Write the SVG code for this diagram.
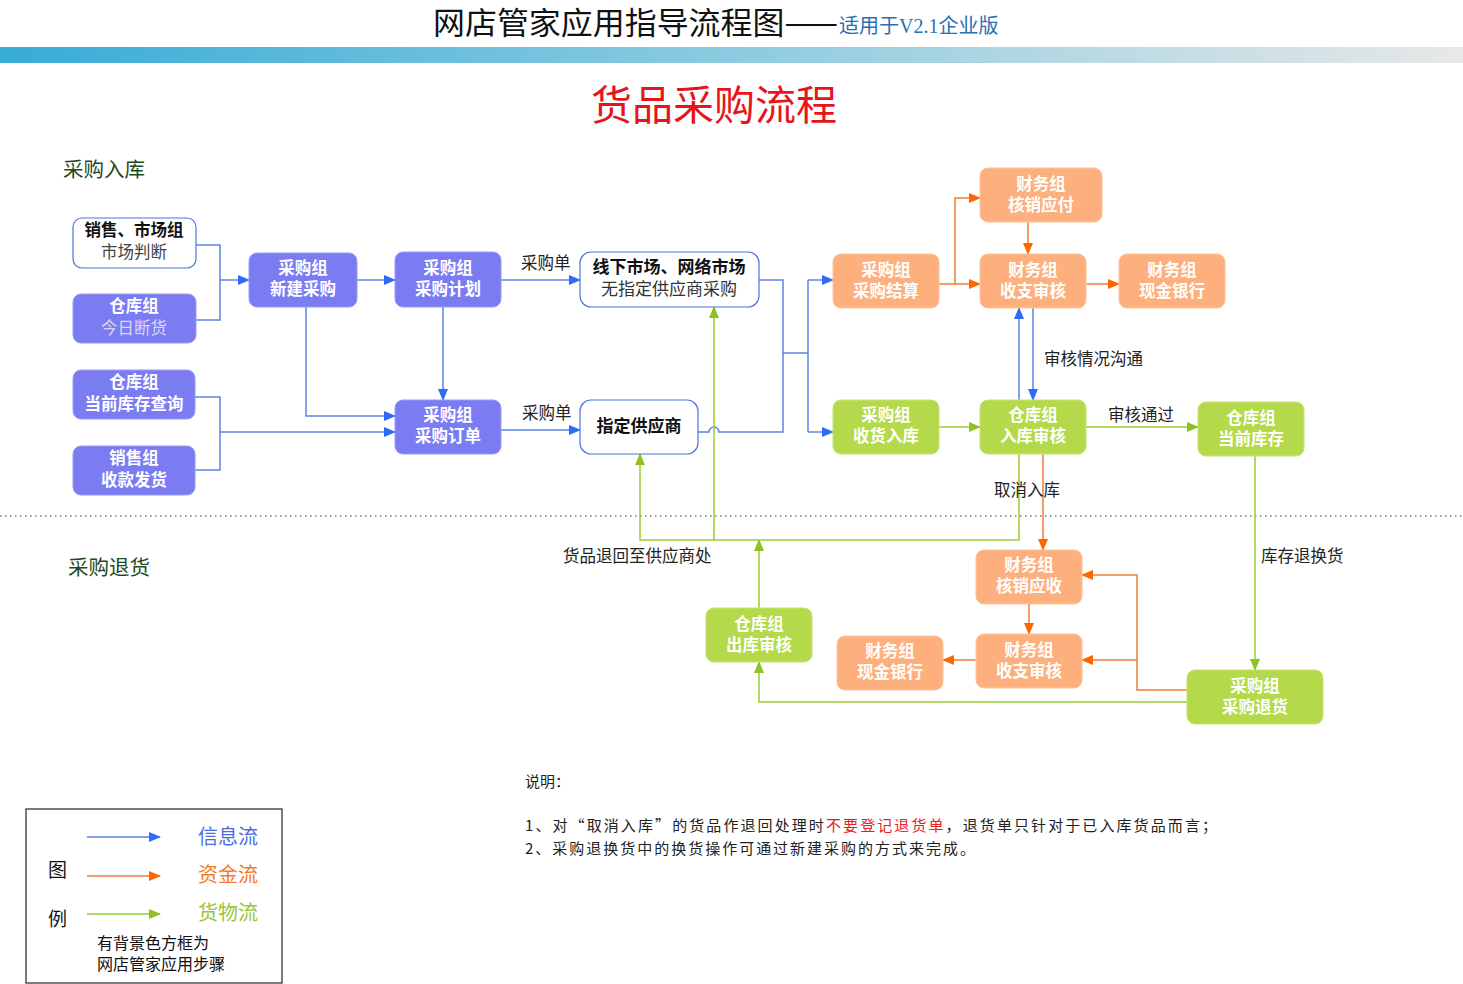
<svg xmlns="http://www.w3.org/2000/svg" width="1463" height="984" viewBox="0 0 1463 984">
<defs>
<linearGradient id="bar" x1="0" x2="1" y1="0" y2="0">
<stop offset="0" stop-color="#37acd6"/>
<stop offset="0.5" stop-color="#8ccbe0"/>
<stop offset="1" stop-color="#e8e8e8"/>
</linearGradient>
<marker id="ab" markerWidth="12" markerHeight="10" refX="11" refY="5" orient="auto" markerUnits="userSpaceOnUse"><path d="M0,0 L12,5 L0,10 Z" fill="#2f6cf5"/></marker>
<marker id="ao" markerWidth="12" markerHeight="10" refX="11" refY="5" orient="auto" markerUnits="userSpaceOnUse"><path d="M0,0 L12,5 L0,10 Z" fill="#ff6600"/></marker>
<marker id="ag" markerWidth="12" markerHeight="10" refX="11" refY="5" orient="auto" markerUnits="userSpaceOnUse"><path d="M0,0 L12,5 L0,10 Z" fill="#8dc21f"/></marker>
</defs>
<style>
.t{font-family:"Noto Sans CJK SC","Noto Sans",sans-serif;}
.s{font-family:"Liberation Serif","Noto Sans CJK SC",serif;}
.nt{font-family:"Noto Sans CJK SC",sans-serif;font-size:16.5px;fill:#ffffff;text-anchor:middle;font-weight:bold;}
.p{fill:#7c7cf2;stroke:#9a9af8;stroke-width:1;}
.o{fill:#fdb07e;stroke:#fcc39c;stroke-width:1;}
.g{fill:#b4d94a;stroke:#c6e272;stroke-width:1;}
.w{fill:#ffffff;stroke:#4b74e0;stroke-width:1.2;}
.lb{fill:none;stroke:#5b82e8;stroke-width:1.5;}
.lo{fill:none;stroke:#f07d3a;stroke-width:1.5;}
.lg{fill:none;stroke:#9acd32;stroke-width:1.5;}
.lab{font-family:"Noto Sans CJK SC",sans-serif;font-size:16.5px;fill:#222;}
</style>
<rect width="1463" height="984" fill="#ffffff"/>
<!-- header -->
<text x="433" y="34" class="t" font-size="31" fill="#111" textLength="405" lengthAdjust="spacingAndGlyphs">网店管家应用指导流程图——</text>
<text x="839" y="33" class="s" font-size="20" fill="#2a6fb3">适用于V2.1企业版</text>
<rect x="0" y="47" width="1463" height="16" fill="url(#bar)"/>
<text x="714" y="120" class="t" font-size="41" fill="#e8141c" text-anchor="middle">货品采购流程</text>
<text x="63" y="177" class="t" font-size="20.5" fill="#1e4a1e">采购入库</text>
<text x="68" y="575" class="t" font-size="20.5" fill="#1e4a1e">采购退货</text>
<line x1="0" y1="516" x2="1463" y2="516" stroke="#333" stroke-width="1.2" stroke-dasharray="1.5,3.5"/>
<!-- connectors -->
<g id="connectors">
<path class="lb" d="M196,245 H220 V320 H196"/>
<path class="lb" d="M220,280 H249" marker-end="url(#ab)"/>
<path class="lb" d="M357,280 H395" marker-end="url(#ab)"/>
<path class="lb" d="M501,280 H580" marker-end="url(#ab)"/>
<path class="lb" d="M443,307 V400" marker-end="url(#ab)"/>
<path class="lb" d="M306,307 V416 H395" marker-end="url(#ab)"/>
<path class="lb" d="M195,397 H220 V470 H195"/>
<path class="lb" d="M220,432 H395" marker-end="url(#ab)"/>
<path class="lb" d="M501,430 H580" marker-end="url(#ab)"/>
<path class="lb" d="M759,280 H783 V432 H719 A5,5 0 0 0 709,432 H698"/>
<path class="lb" d="M783,353 H808"/>
<path class="lb" d="M808,280 V432"/>
<path class="lb" d="M808,280 H833" marker-end="url(#ab)"/>
<path class="lb" d="M808,432 H833" marker-end="url(#ab)"/>
<path class="lb" d="M1019,400 V308" marker-end="url(#ab)"/>
<path class="lb" d="M1033,308 V400" marker-end="url(#ab)"/>
<path class="lo" d="M939,284 H980" marker-end="url(#ao)"/>
<path class="lo" d="M955,284 V198 H980" marker-end="url(#ao)"/>
<path class="lo" d="M1028,222 V254" marker-end="url(#ao)"/>
<path class="lo" d="M1086,284 H1119" marker-end="url(#ao)"/>
<path class="lo" d="M1043,454 V550" marker-end="url(#ao)"/>
<path class="lo" d="M1187,690 H1137 V575 H1082" marker-end="url(#ao)"/>
<path class="lo" d="M1137,660 H1082" marker-end="url(#ao)"/>
<path class="lo" d="M1029,604 V634" marker-end="url(#ao)"/>
<path class="lo" d="M976,660 H943" marker-end="url(#ao)"/>
<path class="lg" d="M939,427 H980" marker-end="url(#ag)"/>
<path class="lg" d="M1086,427 H1198" marker-end="url(#ag)"/>
<path class="lg" d="M1255,456 V670" marker-end="url(#ag)"/>
<path class="lg" d="M1019,454 V540 H640 V454" marker-end="url(#ag)"/>
<path class="lg" d="M714,540 V307" marker-end="url(#ag)"/>
<path class="lg" d="M759,608 V540" marker-end="url(#ag)"/>
<path class="lg" d="M1187,702 H759 V662" marker-end="url(#ag)"/>
<text x="521" y="269" class="lab">采购单</text>
<text x="522" y="419" class="lab">采购单</text>
<text x="1044" y="365" class="lab">审核情况沟通</text>
<text x="1108" y="421" class="lab">审核通过</text>
<text x="994" y="496" class="lab">取消入库</text>
<text x="563" y="562" class="lab">货品退回至供应商处</text>
<text x="1261" y="562" class="lab">库存退换货</text>
</g>
<!-- nodes -->
<g id="n1"><rect class="w" x="73" y="218" width="123" height="50" rx="9"/>
<text x="134" y="236" class="t" font-size="16.5" font-weight="bold" fill="#111" text-anchor="middle">销售、市场组</text>
<text x="134" y="258" class="s" font-size="16.5" fill="#444" text-anchor="middle">市场判断</text></g>
<g id="n2"><rect class="p" x="73" y="294" width="123" height="49" rx="8"/>
<text x="134" y="312" class="nt">仓库组</text>
<text x="134" y="334" class="s" font-size="16.5" fill="#d8d8f0" text-anchor="middle">今日断货</text></g>
<g id="n3"><rect class="p" x="73" y="370" width="122" height="49" rx="8"/>
<text x="134" y="388" class="nt">仓库组</text>
<text x="134" y="410" class="nt">当前库存查询</text></g>
<g id="n4"><rect class="p" x="73" y="446" width="122" height="49" rx="8"/>
<text x="134" y="464" class="nt">销售组</text>
<text x="134" y="486" class="nt">收款发货</text></g>
<g id="n5"><rect class="p" x="249" y="253" width="108" height="54" rx="8"/>
<text x="303" y="274" class="nt">采购组</text>
<text x="303" y="295" class="nt">新建采购</text></g>
<g id="n6"><rect class="p" x="395" y="252" width="106" height="55" rx="8"/>
<text x="448" y="274" class="nt">采购组</text>
<text x="448" y="295" class="nt">采购计划</text></g>
<g id="n7"><rect class="p" x="395" y="400" width="106" height="54" rx="8"/>
<text x="448" y="421" class="nt">采购组</text>
<text x="448" y="442" class="nt">采购订单</text></g>
<g id="n8"><rect class="w" x="580" y="252" width="179" height="55" rx="11"/>
<text x="669" y="273" class="t" font-size="17" font-weight="bold" fill="#111" text-anchor="middle">线下市场、网络市场</text>
<text x="669" y="295" class="s" font-size="17" fill="#333" text-anchor="middle">无指定供应商采购</text></g>
<g id="n9"><rect class="w" x="580" y="400" width="118" height="54" rx="11"/>
<text x="639" y="432" class="t" font-size="17" font-weight="bold" fill="#111" text-anchor="middle">指定供应商</text></g>
<g id="n10"><rect class="o" x="833" y="254" width="106" height="54" rx="8"/>
<text x="886" y="276" class="nt">采购组</text>
<text x="886" y="297" class="nt">采购结算</text></g>
<g id="n11"><rect class="o" x="980" y="168" width="122" height="54" rx="8"/>
<text x="1041" y="190" class="nt">财务组</text>
<text x="1041" y="211" class="nt">核销应付</text></g>
<g id="n12"><rect class="o" x="980" y="254" width="106" height="54" rx="8"/>
<text x="1033" y="276" class="nt">财务组</text>
<text x="1033" y="297" class="nt">收支审核</text></g>
<g id="n13"><rect class="o" x="1119" y="254" width="106" height="54" rx="8"/>
<text x="1172" y="276" class="nt">财务组</text>
<text x="1172" y="297" class="nt">现金银行</text></g>
<g id="n14"><rect class="g" x="833" y="400" width="106" height="54" rx="8"/>
<text x="886" y="421" class="nt">采购组</text>
<text x="886" y="442" class="nt">收货入库</text></g>
<g id="n15"><rect class="g" x="980" y="400" width="106" height="54" rx="8"/>
<text x="1033" y="421" class="nt">仓库组</text>
<text x="1033" y="442" class="nt">入库审核</text></g>
<g id="n16"><rect class="g" x="1198" y="402" width="106" height="54" rx="8"/>
<text x="1251" y="424" class="nt">仓库组</text>
<text x="1251" y="445" class="nt">当前库存</text></g>
<g id="n17"><rect class="o" x="976" y="550" width="106" height="54" rx="8"/>
<text x="1029" y="571" class="nt">财务组</text>
<text x="1029" y="592" class="nt">核销应收</text></g>
<g id="n18"><rect class="o" x="976" y="634" width="106" height="54" rx="8"/>
<text x="1029" y="656" class="nt">财务组</text>
<text x="1029" y="677" class="nt">收支审核</text></g>
<g id="n19"><rect class="o" x="837" y="636" width="106" height="54" rx="8"/>
<text x="890" y="657" class="nt">财务组</text>
<text x="890" y="678" class="nt">现金银行</text></g>
<g id="n20"><rect class="g" x="706" y="608" width="106" height="54" rx="8"/>
<text x="759" y="630" class="nt">仓库组</text>
<text x="759" y="651" class="nt">出库审核</text></g>
<g id="n21"><rect class="g" x="1187" y="670" width="136" height="54" rx="8"/>
<text x="1255" y="692" class="nt">采购组</text>
<text x="1255" y="713" class="nt">采购退货</text></g>
<!-- notes -->
<text x="525" y="787" class="t" font-size="15" fill="#222">说明：</text>
<text x="525" y="831" class="t" font-size="15" fill="#222" textLength="692" lengthAdjust="spacing">1、对“取消入库”的货品作退回处理时<tspan fill="#e82020">不要登记退货单</tspan>，退货单只针对于已入库货品而言；</text>
<text x="525" y="854" class="t" font-size="15" fill="#222" textLength="450" lengthAdjust="spacing">2、采购退换货中的换货操作可通过新建采购的方式来完成。</text>
<!-- legend -->
<g id="legend">
<rect x="26" y="809" width="256" height="174" fill="#ffffff" stroke="#222" stroke-width="1.2"/>
<text x="48" y="877" class="t" font-size="19" fill="#111">图</text>
<text x="48" y="926" class="t" font-size="19" fill="#111">例</text>
<path class="lb" d="M87,837 H160" marker-end="url(#ab)"/>
<path class="lo" d="M87,876 H160" marker-end="url(#ao)"/>
<path class="lg" d="M87,914 H160" marker-end="url(#ag)"/>
<text x="198" y="844" class="t" font-size="20" fill="#4a6ee0">信息流</text>
<text x="198" y="882" class="t" font-size="20" fill="#f07b2a">资金流</text>
<text x="198" y="920" class="t" font-size="20" fill="#9ac43a">货物流</text>
<text x="97" y="949" class="t" font-size="16" fill="#111">有背景色方框为</text>
<text x="97" y="970" class="t" font-size="16" fill="#111">网店管家应用步骤</text>
</g>
</svg>
